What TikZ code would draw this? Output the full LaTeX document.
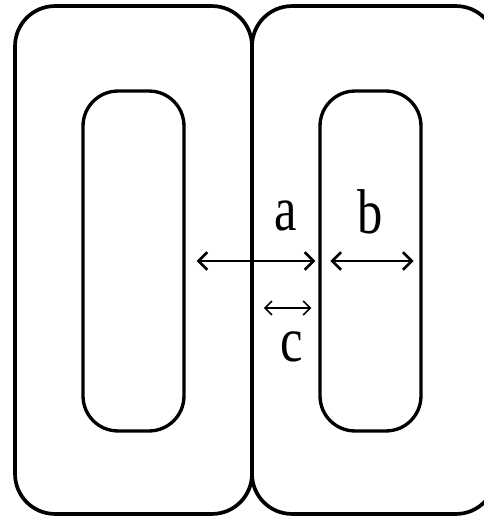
\documentclass[tikz,border=0pt]{standalone}
\usepackage{fontspec}
\usepackage{graphicx}
\setmainfont{Liberation Serif}
\usetikzlibrary{arrows.meta}
\tikzset{
  wall/.style={draw, line width=2.1pt, rounded corners=0.8cm, inner sep=0pt, minimum height=10.16cm},
  core/.style={draw, line width=1.9pt, rounded corners=0.7cm, inner sep=0pt, minimum width=2.02cm, minimum height=6.8cm},
  dim/.style={line width=1.5pt, {Straight Barb[length=5pt,width=10pt]}-{Straight Barb[length=5pt,width=10pt]}},
  thindim/.style={line width=0.9pt, {Straight Barb[length=4pt,width=8pt]}-{Straight Barb[length=4pt,width=8pt]}},
  lbl/.style={inner sep=0pt, font=\fontsize{36}{40}\selectfont}
}
\newcommand{\narrow}[1]{\scalebox{0.8}[1]{#1}}
\begin{document}
\begin{tikzpicture}[x=0.02cm, y=-0.02cm]
    \clip (0,0) rectangle (484,518);
    % outer blocks
    \node[wall, minimum width=4.74cm] (outerL) at (133.5,260) {};
    \node[wall, minimum width=4.88cm] (outerR) at (374,260) {};

    % inner cores
    \node[core] (coreL) at (133.5,261) {};
    \node[core] (coreR) at (370.5,261) {};

    % dimensions
    \draw[dim, shorten <=0.22cm, shorten >=0.06cm] (coreL.east) -- (coreL.east -| coreR.west);
    \draw[dim, shorten <=0.24cm, shorten >=0.18cm] (coreR.west) -- (coreR.east);
    \coordinate (gapL) at (outerL.east |- 0,308);
    \draw[thindim, shorten <=0.2cm, shorten >=0.14cm] (gapL) -- (gapL -| coreR.west);

    \node[lbl] (labA) at (286,216) {\narrow{a}};
    \node[lbl] (labB) at (370,212) {\narrow{b}};
    \node[lbl] (labC) at (292,347) {\narrow{c}};
\end{tikzpicture}
\end{document}
